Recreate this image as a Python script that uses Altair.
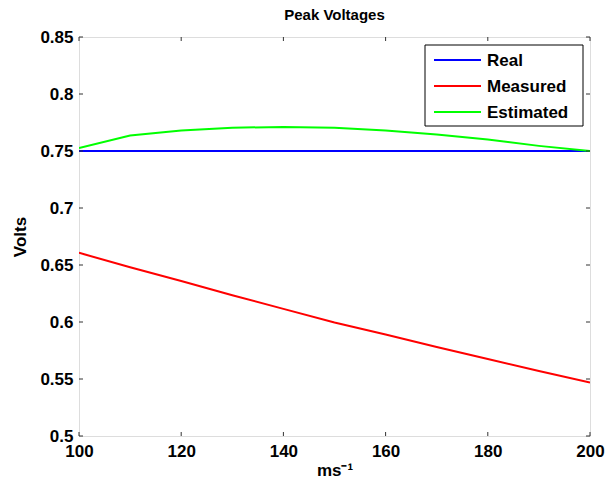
import altair as alt
import pandas as pd

# ---- data ----
x_vals = [100, 110, 120, 130, 140, 150, 160, 170, 180, 190, 200]
real = [0.75] * 11
measured = [0.6607, 0.648, 0.636, 0.6235, 0.6115, 0.5995, 0.589, 0.578, 0.5675, 0.557, 0.547]
estimated = [0.7525, 0.7635, 0.768, 0.7705, 0.771, 0.7705, 0.768, 0.7645, 0.760, 0.7545, 0.750]
series_names = ["Real", "Measured", "Estimated"]
series_colors = ["#0000FF", "#FF0000", "#00FF00"]
x_ticks = [100, 120, 140, 160, 180, 200]
y_ticks = [0.5, 0.55, 0.6, 0.65, 0.7, 0.75, 0.8, 0.85]

FONT = "Liberation Sans"
W, H = 511, 399

rows = []
for name, vals in zip(series_names, [real, measured, estimated]):
    for x, v in zip(x_vals, vals):
        rows.append({"x": x, "v": v, "series": name})
df = pd.DataFrame(rows)

xs = alt.Scale(domain=[100, 200], nice=False, zero=False)
ys = alt.Scale(domain=[0.5, 0.85], nice=False, zero=False)

lines = alt.Chart(df).mark_line(strokeWidth=2, clip=True).encode(
    x=alt.X("x:Q", scale=xs,
            axis=alt.Axis(values=x_ticks, format="d", ticks=False, domain=False, grid=False,
                          labelFlush=False,
                          labelFont=FONT, labelFontSize=17, labelFontWeight="bold",
                          labelColor="black", labelPadding=7,
                          title="ms⁻¹", titleFont=FONT, titleFontSize=17,
                          titleFontWeight="bold", titleColor="black", titlePadding=3)),
    y=alt.Y("v:Q", scale=ys,
            axis=alt.Axis(values=y_ticks, format="~g", ticks=False, domain=False, grid=False,
                          labelFlush=False,
                          labelFont=FONT, labelFontSize=17, labelFontWeight="bold",
                          labelColor="black", labelPadding=6,
                          title="Volts", titleFont=FONT, titleFontSize=17,
                          titleFontWeight="bold", titleColor="black", titlePadding=10)),
    color=alt.Color("series:N", scale=alt.Scale(domain=series_names, range=series_colors),
                    legend=None),
    detail="series:N",
)

xt = pd.DataFrame({"x": x_ticks})
yt = pd.DataFrame({"y": y_ticks})
tick_color = "#333333"
tb = alt.Chart(xt).mark_rule(color=tick_color, strokeWidth=1).encode(
    x=alt.X("x:Q", scale=xs), y=alt.value(H), y2=alt.value(H - 4))
tt = alt.Chart(xt).mark_rule(color=tick_color, strokeWidth=1).encode(
    x=alt.X("x:Q", scale=xs), y=alt.value(0), y2=alt.value(4))
tl = alt.Chart(yt).mark_rule(color=tick_color, strokeWidth=1).encode(
    y=alt.Y("y:Q", scale=ys), x=alt.value(0), x2=alt.value(4))
tr = alt.Chart(yt).mark_rule(color=tick_color, strokeWidth=1).encode(
    y=alt.Y("y:Q", scale=ys), x=alt.value(W), x2=alt.value(W - 4))

# ---- legend (manual, MATLAB style) ----
box = alt.Chart(pd.DataFrame({"a": [0]})).mark_rect(
    fill="white", stroke="black", strokeWidth=1).encode(
    x=alt.value(346), x2=alt.value(504), y=alt.value(8), y2=alt.value(89))
leg_layers = [box]
for i, (name, col) in enumerate(zip(series_names, series_colors)):
    d = pd.DataFrame({"label": [name]})
    yy = 23 + 26 * i
    leg_layers.append(alt.Chart(d).mark_rule(color=col, strokeWidth=2).encode(
        x=alt.value(355), x2=alt.value(402), y=alt.value(yy)))
    leg_layers.append(alt.Chart(d).mark_text(
        align="left", baseline="middle", font=FONT, fontSize=17, fontWeight="bold",
        color="black").encode(text="label:N", x=alt.value(408), y=alt.value(yy + 1)))

chart = alt.layer(lines, tb, tt, tl, tr, *leg_layers).properties(
    width=W, height=H,
    title=alt.TitleParams("Peak Voltages", font=FONT, fontSize=15, fontWeight="bold",
                          color="black", offset=5),
    autosize=alt.AutoSizeParams(type="none"),
    padding={"left": 79, "top": 37, "right": 15, "bottom": 51},
).configure_view(stroke=tick_color, strokeWidth=1).configure(background="white")

chart.save("out.html", embed_options={"renderer": "svg", "actions": False})
